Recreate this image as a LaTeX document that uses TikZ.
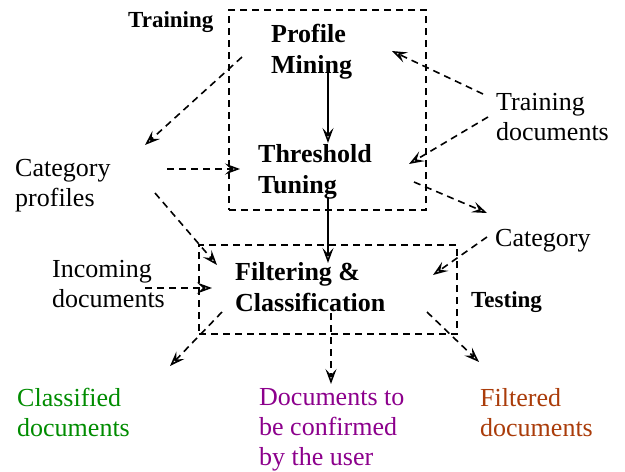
\documentclass[tikz,border=0pt]{standalone}
\usepackage{fontspec}
\setmainfont{Liberation Serif}
\usetikzlibrary{arrows.meta}
\definecolor{cgreen}{RGB}{0,140,0}
\definecolor{cpurple}{RGB}{140,0,140}
\definecolor{cbrown}{RGB}{170,60,10}
\newcommand{\mylines}[1]{\begin{tabular}[t]{@{}l@{}}#1\end{tabular}}
\begin{document}
\begin{tikzpicture}[x=1pt,y=-1pt,
  txt/.style={anchor=base west, inner sep=0pt, font=\fontsize{26}{30}\selectfont},
  btxt/.style={anchor=base west, inner sep=0pt, font=\fontsize{26}{31}\selectfont\bfseries},
  lbl/.style={anchor=base west, inner sep=0pt, font=\fontsize{23}{27}\selectfont\bfseries},
  region/.style={draw, dash pattern=on 7pt off 5pt, line width=1.6pt, inner sep=0pt},
  tip/.style={-{Stealth[length=15pt,width=11pt,inset=6pt,open,line width=1.6pt]}},
  flow/.style={tip, dash pattern=on 7pt off 5pt, line width=1.6pt},
  solidflow/.style={tip, line width=1.8pt}
]
\useasboundingbox (0,0) rectangle (625,472);
% regions
\node[region, minimum width=197pt, minimum height=200pt] (trainbox) at (327.5,110) {};
\node[region, minimum width=258pt, minimum height=89pt] (testbox) at (328,289.5) {};
\node[lbl] (trainlbl) at (128,27) {Training};
\node[lbl] (testlbl) at (471,307) {Testing};
% process nodes
\node[btxt] (pm) at (271,42) {\mylines{Profile\\Mining}};
\node[btxt] (tt) at (258,162) {\mylines{Threshold\\Tuning}};
\node[btxt] (fc) at (235,280) {\mylines{Filtering \&\\Classification}};
% data nodes
\node[txt] (cp) at (15,176) {\mylines{Category\\profiles}};
\node[txt] (td) at (496,110) {\mylines{Training\\documents}};
\node[txt] (cat) at (495,246) {Category};
\node[txt] (inc) at (52,277) {\mylines{Incoming\\documents}};
\node[txt, text=cgreen] (cls) at (17,406) {\mylines{Classified\\documents}};
\node[txt, text=cpurple] (conf) at (259,405) {\mylines{Documents to\\be confirmed\\by the user}};
\node[txt, text=cbrown] (filt) at (480,406) {\mylines{Filtered\\documents}};
% connector end points
\coordinate (pm-a) at (242,57);   \coordinate (cp-in) at (145,145);
\coordinate (cp-a) at (167,169);  \coordinate (tt-in1) at (240,169);
\coordinate (cp-b) at (155,193);  \coordinate (fc-in1) at (217,265);
\coordinate (pm-b) at (328,72);   \coordinate (tt-in0) at (328,143);
\coordinate (tt-b) at (328,197);  \coordinate (fc-in0) at (328,263);
\coordinate (td-a) at (483,94);   \coordinate (pm-in) at (392,51);
\coordinate (td-b) at (488,117);  \coordinate (tt-in2) at (409,164);
\coordinate (tt-c) at (414,182);  \coordinate (cat-in) at (487,213);
\coordinate (cat-a) at (487,237); \coordinate (fc-in2) at (433,275);
\coordinate (inc-a) at (145,288); \coordinate (fc-in3) at (212,288);
\coordinate (fc-a) at (222,312);  \coordinate (cls-in) at (170,366);
\coordinate (fc-b) at (331,313);  \coordinate (conf-in) at (331,384);
\coordinate (fc-c) at (427,312);  \coordinate (filt-in) at (479,362);
% connectors
\draw[flow] (pm-a) -- (cp-in);
\draw[flow] (cp-a) -- (tt-in1);
\draw[flow] (cp-b) -- (fc-in1);
\draw[solidflow] (pm-b) -- (tt-in0);
\draw[solidflow] (tt-b) -- (fc-in0);
\draw[flow] (td-a) -- (pm-in);
\draw[flow] (td-b) -- (tt-in2);
\draw[flow] (tt-c) -- (cat-in);
\draw[flow] (cat-a) -- (fc-in2);
\draw[flow] (inc-a) -- (fc-in3);
\draw[flow] (fc-a) -- (cls-in);
\draw[flow] (fc-b) -- (conf-in);
\draw[flow] (fc-c) -- (filt-in);
\end{tikzpicture}
\end{document}
